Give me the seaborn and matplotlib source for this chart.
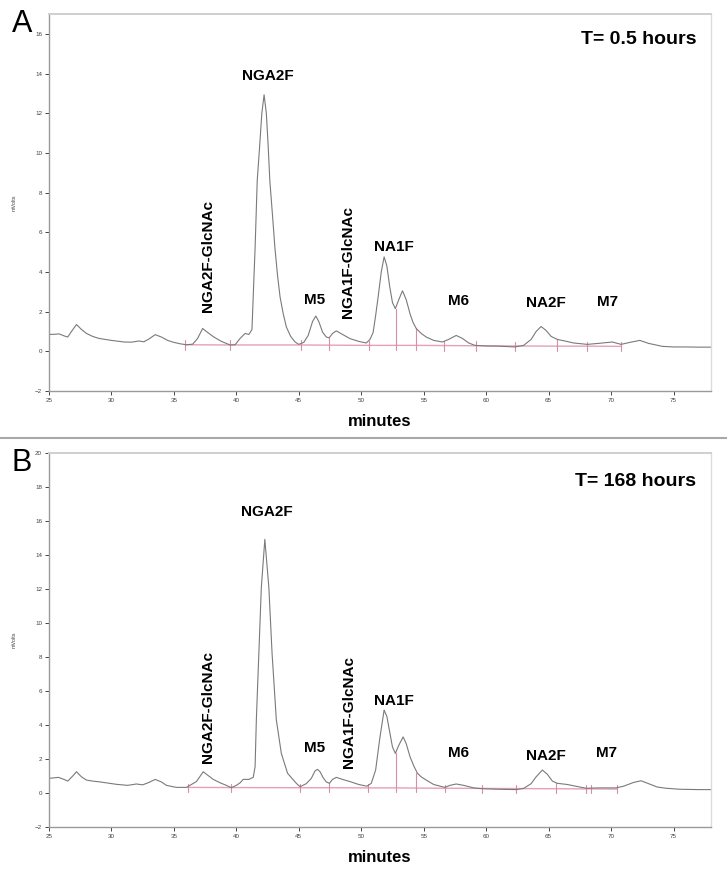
import matplotlib
matplotlib.use("Agg")
import matplotlib.pyplot as plt
from matplotlib.lines import Line2D
import seaborn as sns
import pandas as pd

# ---------------- data ----------------
time_a = [25.0, 25.5, 25.8, 26.2, 26.5, 26.8, 27.2, 27.6, 28.0, 28.5, 29.0, 30.0, 31.0, 31.6, 32.2,
          32.6, 33.0, 33.5, 34.0, 34.5, 35.0, 35.5, 36.0, 36.5, 36.9, 37.3, 37.7, 38.2, 38.8, 39.5,
          39.9, 40.3, 40.7, 41.0, 41.25, 41.4, 41.5, 41.67, 41.86, 42.04, 42.22, 42.4, 42.55, 42.68,
          42.9, 43.08, 43.3, 43.5, 43.75, 44.0, 44.35, 44.7, 45.0, 45.4, 45.75, 46.1, 46.36, 46.6,
          46.9, 47.2, 47.43, 47.7, 48.0, 48.5, 49.1, 49.8, 50.4, 50.7, 50.95, 51.15, 51.35, 51.6,
          51.83, 52.05, 52.28, 52.5, 52.73, 53.0, 53.3, 53.6, 53.9, 54.15, 54.4, 54.8, 55.2, 55.8,
          56.5, 57.0, 57.6, 58.1, 58.6, 59.1, 60.0, 61.0, 62.3, 63.0, 63.6, 64.0, 64.4, 64.8, 65.2,
          65.7, 66.3, 67.0, 68.1, 69.0, 70.1, 70.8, 71.5, 72.3, 73.0, 74.1, 75.0, 76.0, 77.0, 78.0]
mv_a = [0.85, 0.86, 0.88, 0.78, 0.72, 1.0, 1.35, 1.1, 0.9, 0.75, 0.65, 0.55, 0.47, 0.46, 0.52,
        0.48, 0.62, 0.84, 0.72, 0.55, 0.45, 0.38, 0.33, 0.36, 0.65, 1.15, 0.95, 0.72, 0.5, 0.32,
        0.33, 0.65, 0.9, 0.85, 1.1, 3.6, 5.2, 8.6, 10.3, 12.0, 12.93, 12.0, 10.3, 8.6,
        6.8, 5.27, 3.8, 2.74, 1.9, 1.23, 0.75, 0.47, 0.35, 0.45, 0.8, 1.5, 1.78, 1.5,
        0.97, 0.72, 0.68, 0.9, 1.03, 0.85, 0.64, 0.5, 0.42, 0.6, 0.95, 1.8, 2.74, 4.0,
        4.76, 4.3, 3.25, 2.45, 2.15, 2.6, 3.05, 2.6, 1.9, 1.45, 1.15, 0.9, 0.72, 0.55,
        0.47, 0.6, 0.8, 0.65, 0.42, 0.3, 0.27, 0.26, 0.22, 0.3, 0.6, 1.0, 1.25, 1.05, 0.75,
        0.6, 0.52, 0.42, 0.35, 0.4, 0.47, 0.35, 0.45, 0.55, 0.4, 0.25, 0.22, 0.22, 0.21, 0.21]

time_b = [25.0, 25.75, 26.2, 26.5, 26.9, 27.2, 27.6, 28.0, 28.5, 29.1, 30.4, 31.3, 32.0, 32.5, 33.0,
          33.5, 34.0, 34.4, 35.2, 36.0, 36.8, 37.35, 37.7, 38.15, 38.7, 39.2, 39.6, 40.0, 40.3,
          40.55, 41.0, 41.35, 41.5, 41.6, 41.8, 42.0, 42.28, 42.6, 42.86, 43.2, 43.6, 44.1, 44.8,
          45.1, 45.6, 46.0, 46.3, 46.5, 46.7, 46.95, 47.2, 47.45, 47.7, 48.0, 48.5, 49.1, 49.8,
          50.45, 50.8, 51.15, 51.5, 51.83, 52.05, 52.3, 52.5, 52.73, 53.0, 53.35, 53.6, 53.9,
          54.2, 54.5, 54.8, 55.2, 55.8, 56.7, 57.1, 57.6, 58.2, 59.0, 59.7, 61.0, 62.4, 63.0,
          63.6, 64.0, 64.5, 64.9, 65.3, 65.7, 66.5, 67.3, 68.0, 69.0, 70.4, 71.0, 71.8, 72.4,
          73.0, 73.7, 74.4, 75.5, 77.0, 78.0]
mv_b = [0.86, 0.92, 0.8, 0.7, 1.0, 1.25, 0.95, 0.76, 0.7, 0.65, 0.51, 0.45, 0.53, 0.48, 0.62,
        0.8, 0.65, 0.45, 0.33, 0.33, 0.67, 1.25, 1.05, 0.8, 0.6, 0.45, 0.31, 0.45, 0.6,
        0.8, 0.8, 0.92, 1.55, 4.3, 8.2, 12.1, 14.92, 12.1, 8.2, 4.3, 2.33, 1.16, 0.57,
        0.37, 0.55, 0.86, 1.3, 1.39, 1.25, 0.9, 0.65, 0.57, 0.8, 0.92, 0.8, 0.67, 0.5,
        0.4, 0.57, 1.35, 3.3, 4.88, 4.5, 3.5, 2.7, 2.33, 2.8, 3.3, 2.9, 2.14,
        1.6, 1.16, 0.95, 0.76, 0.5, 0.33, 0.45, 0.53, 0.45, 0.3, 0.25, 0.22, 0.2, 0.27,
        0.55, 0.95, 1.35, 1.1, 0.7, 0.57, 0.5, 0.38, 0.28, 0.3, 0.3, 0.4, 0.62, 0.72,
        0.55, 0.35, 0.28, 0.22, 0.2, 0.2]

# integration marks: time, baseline level, top of the mark
tick_t_a = [35.9, 39.5, 45.2, 47.4, 50.6, 52.8, 54.4, 56.6, 59.2, 62.3, 65.7, 68.1, 70.8]
tick_base_a = [0.33, 0.32, 0.32, 0.31, 0.30, 0.30, 0.30, 0.29, 0.28, 0.27, 0.26, 0.26, 0.25]
tick_top_a = [0.55, 0.55, 0.55, 0.68, 0.5, 2.15, 1.15, 0.5, 0.5, 0.45, 0.6, 0.45, 0.4]

tick_t_b = [36.1, 39.6, 45.1, 47.4, 50.5, 52.8, 54.4, 56.7, 59.7, 62.4, 65.6, 68.0, 68.4, 70.5]
tick_base_b = [0.33, 0.32, 0.31, 0.31, 0.30, 0.30, 0.29, 0.28, 0.27, 0.26, 0.25, 0.24, 0.24, 0.23]
tick_top_b = [0.5, 0.5, 0.5, 0.57, 0.45, 2.33, 1.16, 0.45, 0.42, 0.4, 0.57, 0.35, 0.25, 0.35]

peak_names = ["NGA2F", "NGA2F-GlcNAc", "M5", "NGA1F-GlcNAc", "NA1F", "M6", "NA2F", "M7"]
peak_rot = [0, 90, 0, 90, 0, 0, 0, 0]
lab_x_a = [42.5, 37.75, 46.3, 48.95, 52.6, 57.8, 64.8, 69.7]
lab_y_a = [13.9, 1.97, 2.6, 1.67, 5.28, 2.53, 2.42, 2.49]
lab_x_b = [42.4, 37.75, 46.3, 49.04, 52.6, 57.8, 64.8, 69.6]
lab_y_b = [16.5, 1.75, 2.63, 1.45, 5.4, 2.35, 2.2, 2.37]

time_labels = ["T= 0.5 hours", "T= 168 hours"]
time_lab_y = [15.7, 18.35]
panel_letters = ["A", "B"]
ylims = [(-2, 17), (-2, 20)]
yticks = [list(range(-2, 17, 2)), list(range(-2, 21, 2))]
xticks = list(range(25, 80, 5))

# ---------------- plotting ----------------
sns.set_theme(style="white")
plt.rcParams['font.family'] = ['Liberation Sans', 'DejaVu Sans']

W, H = 727, 872
fig = plt.figure(figsize=(W / 100, H / 100), dpi=100)

boxes = [(49, 14, 711, 391), (49, 453, 711, 827)]
traces = [(time_a, mv_a), (time_b, mv_b)]
ticks = [(tick_t_a, tick_base_a, tick_top_a), (tick_t_b, tick_base_b, tick_top_b)]
labels = [(lab_x_a, lab_y_a), (lab_x_b, lab_y_b)]

trace_col = "#7a7a7a"
pink = "#e6a0ba"
tick_col = "#d98cab"

for i in range(2):
    l, t, r, b = boxes[i]
    ax = fig.add_axes([l / W, 1 - b / H, (r - l) / W, (b - t) / H])
    df = pd.DataFrame({"minutes": traces[i][0], "mV": traces[i][1]})
    sns.lineplot(data=df, x="minutes", y="mV", ax=ax, color=trace_col, linewidth=0.8,
                 estimator=None, sort=False)
    tt, tb, ttop = ticks[i]
    # baseline
    ax.plot(tt, tb, color=pink, linewidth=1.0, zorder=1)
    for x0, b0, top in zip(tt, tb, ttop):
        ax.plot([x0, x0], [b0 - 0.25, max(top, b0 + 0.22)], color=tick_col, linewidth=0.8, zorder=1)
    lx, ly = labels[i]
    for name, rot, x0, y0 in zip(peak_names, peak_rot, lx, ly):
        if rot == 90:
            ax.text(x0, y0, name, rotation=90, ha="center", va="bottom",
                    fontsize=11, fontweight="bold", color="black")
        else:
            ax.text(x0, y0, name, ha="center", va="center",
                    fontsize=11, fontweight="bold", color="black")
    ax.text(76.8, time_lab_y[i], time_labels[i], ha="right", va="center",
            fontsize=14, fontweight="bold", color="black")

    ax.set_xlim(25, 78)
    ax.set_ylim(*ylims[i])
    ax.set_xticks(xticks)
    ax.set_yticks(yticks[i])
    ax.tick_params(axis="both", labelsize=4.5, length=3, width=0.7, direction="out",
                   colors="#444444", pad=2, bottom=True, left=True)
    ax.set_xlabel("minutes", fontsize=12, fontweight="bold", color="black", labelpad=8)
    ax.set_ylabel("")
    ax.spines["left"].set_color("#9a9a9a")
    ax.spines["bottom"].set_color("#9a9a9a")
    ax.spines["top"].set_color("#cfcfcf")
    ax.spines["right"].set_color("#dcdcdc")
    for s in ax.spines.values():
        s.set_linewidth(1.0)
    ax.spines["top"].set_linewidth(1.4)

    fig.text(14 / W, 1 - ((t + b) / 2) / H, "mVolts", rotation=90, ha="center", va="center",
             fontsize=4, color="#444444")
    fig.text(22 / W, 1 - (t + 10) / H, panel_letters[i], ha="center", va="center",
             fontsize=22, color="black")

fig.add_artist(Line2D([0, 1], [1 - 438 / H, 1 - 438 / H], color="#a8a8a8", linewidth=1.5,
                      transform=fig.transFigure))

fig.savefig("out.png", dpi=100, facecolor="white")
